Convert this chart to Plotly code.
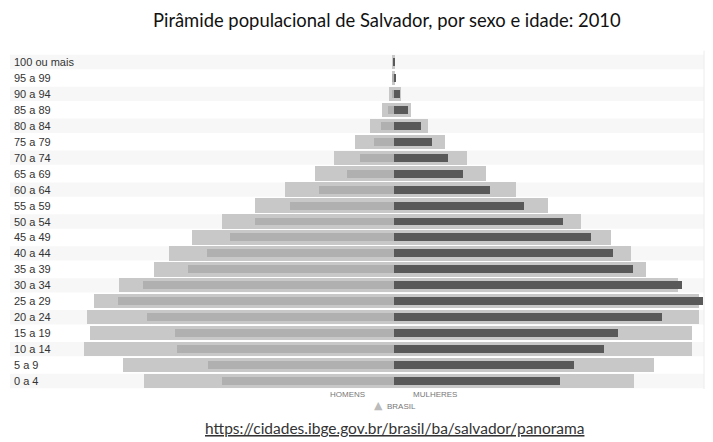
import plotly.graph_objects as go

ages = ["100 ou mais", "95 a 99", "90 a 94", "85 a 89", "80 a 84", "75 a 79", "70 a 74",
        "65 a 69", "60 a 64", "55 a 59", "50 a 54", "45 a 49", "40 a 44", "35 a 39",
        "30 a 34", "25 a 29", "20 a 24", "15 a 19", "10 a 14", "5 a 9", "0 a 4"]

# percent of total population
homens_salvador = [0.005, 0.01, 0.02, 0.08, 0.18, 0.29, 0.50, 0.69, 1.09, 1.53, 2.04,
                   2.41, 2.75, 3.03, 3.69, 4.06, 3.63, 3.21, 3.19, 2.73, 2.53]
homens_brasil = [0.01, 0.015, 0.06, 0.17, 0.35, 0.57, 0.88, 1.16, 1.59, 2.04, 2.53,
                 2.97, 3.30, 3.53, 4.04, 4.41, 4.51, 4.46, 4.56, 3.98, 3.67]
mulheres_salvador = [0.01, 0.03, 0.09, 0.21, 0.40, 0.57, 0.80, 1.02, 1.42, 1.92, 2.50,
                     2.91, 3.23, 3.52, 4.24, 4.55, 3.95, 3.30, 3.10, 2.65, 2.45]
mulheres_brasil = [0.01, 0.02, 0.11, 0.26, 0.51, 0.76, 1.08, 1.36, 1.80, 2.28, 2.76,
                   3.20, 3.49, 3.71, 4.19, 4.50, 4.50, 4.39, 4.40, 3.83, 3.54]

title = "Pirâmide populacional de Salvador, por sexo e idade: 2010"
source_url = "https://cidades.ibge.gov.br/brasil/ba/salvador/panorama"

W, H = 713, 442
ML, MR, MT, MB = 83, 9, 54, 53
plot_w = W - ML - MR

fig = go.Figure()
fig.add_trace(go.Bar(y=ages, x=[-v for v in homens_brasil], orientation="h", width=0.9,
                     marker=dict(color="#c8c8c8", line=dict(width=0)), name="Brasil H"))
fig.add_trace(go.Bar(y=ages, x=mulheres_brasil, orientation="h", width=0.9,
                     marker=dict(color="#c8c8c8", line=dict(width=0)), name="Brasil M"))
fig.add_trace(go.Bar(y=ages, x=[-v for v in homens_salvador], orientation="h", width=0.5,
                     marker=dict(color="#b0b0b0", line=dict(width=0)), name="Homens"))
fig.add_trace(go.Bar(y=ages, x=mulheres_salvador, orientation="h", width=0.5,
                     marker=dict(color="#595959", line=dict(width=0)), name="Mulheres"))

shapes = []
x_left = (12 - 2 - ML) / plot_w
for i in range(len(ages)):
    if i % 2 == 0:
        shapes.append(dict(type="rect", xref="paper", yref="y", x0=x_left, x1=1,
                           y0=i - 0.45, y1=i + 0.45, fillcolor="#f7f7f7",
                           line=dict(width=0), layer="below"))
shapes.append(dict(type="line", xref="paper", yref="paper", x0=1, x1=1, y0=0, y1=1.01,
                   line=dict(color="#ececec", width=1)))

annotations = []
for i, a in enumerate(ages):
    annotations.append(dict(text=a, xref="paper", yref="y", x=(12 - ML) / plot_w, y=i,
                            xanchor="left", yanchor="middle", showarrow=False,
                            font=dict(family="Liberation Sans, Arial", size=11, color="#333")))

def px_x(px):
    return (px - ML) / plot_w

def px_y(py):
    return 1 - (py - MT) / (H - MT - MB)

annotations += [
    dict(text="HOMENS", xref="paper", yref="paper", x=px_x(347), y=px_y(394),
         xanchor="center", yanchor="middle", showarrow=False,
         font=dict(family="Liberation Sans, Arial", size=8, color="#777")),
    dict(text="MULHERES", xref="paper", yref="paper", x=px_x(435), y=px_y(394),
         xanchor="center", yanchor="middle", showarrow=False,
         font=dict(family="Liberation Sans, Arial", size=8, color="#777")),
    dict(text="▲", xref="paper", yref="paper", x=px_x(378), y=px_y(405),
         xanchor="center", yanchor="middle", showarrow=False,
         font=dict(family="DejaVu Sans", size=11, color="#bbbbbb")),
    dict(text="BRASIL", xref="paper", yref="paper", x=px_x(401), y=px_y(406),
         xanchor="center", yanchor="middle", showarrow=False,
         font=dict(family="Liberation Sans, Arial", size=8, color="#777")),
    dict(text=title, xref="paper", yref="paper", x=px_x(387), y=px_y(20),
         xanchor="center", yanchor="middle", showarrow=False,
         font=dict(family="Lato, Open Sans", size=18.4, color="#111")),
    dict(text="<u>" + source_url + "</u>", xref="paper", yref="paper", x=px_x(394),
         y=px_y(428), xanchor="center", yanchor="middle", showarrow=False,
         font=dict(family="Lato, Open Sans", size=15.5, color="#333")),
]

fig.update_layout(
    width=W, height=H, barmode="overlay", bargap=0, showlegend=False,
    margin=dict(l=ML, r=MR, t=MT, b=MB, pad=0),
    paper_bgcolor="white", plot_bgcolor="rgba(0,0,0,0)",
    shapes=shapes, annotations=annotations,
    xaxis=dict(range=[-4.57, 4.57], showgrid=False, zeroline=False, showticklabels=False,
               fixedrange=True),
    yaxis=dict(categoryorder="array", categoryarray=ages, autorange=False,
               range=[len(ages) - 0.5, -0.5], showgrid=False, zeroline=False,
               showticklabels=False, fixedrange=True),
)

fig.write_html("out.html", config={"displayModeBar": False},
               post_script="document.body.style.margin='0';document.body.style.overflow='hidden';")
